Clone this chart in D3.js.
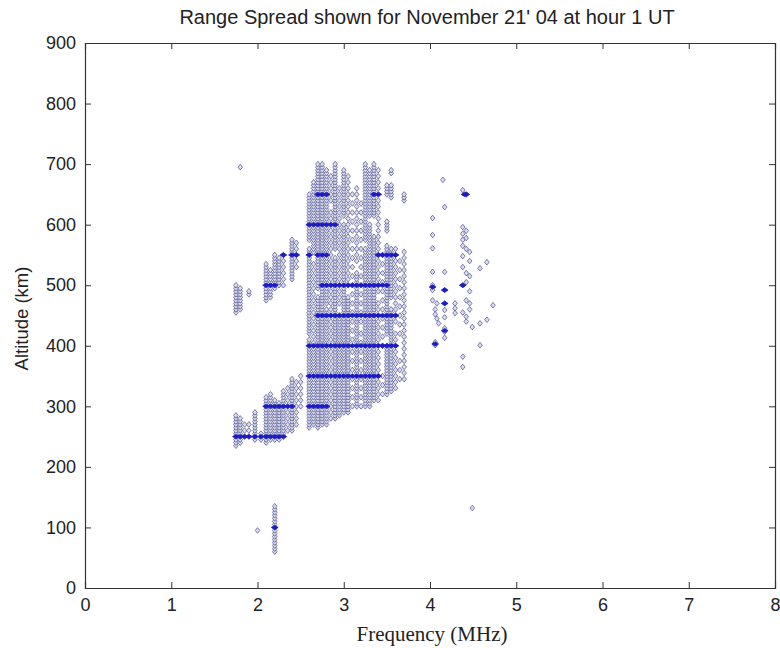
<!DOCTYPE html>
<html>
<head>
<meta charset="utf-8">
<script src="https://cdn.jsdelivr.net/npm/d3@7"></script>
<style>
  html, body { margin: 0; padding: 0; background: #fff; }
  svg { display: block; }
</style>
</head>
<body>
<svg id="chart" width="780" height="648"></svg>
<script>
// ---------- DATA ----------
const title = "Range Spread shown for November 21' 04 at hour 1 UT";
const xLabel = "Frequency (MHz)";
const yLabel = "Altitude (km)";
const xTicks = [0, 1, 2, 3, 4, 5, 6, 7, 8];
const yTicks = [0, 100, 200, 300, 400, 500, 600, 700, 800, 900];

// sounding columns: frequency (MHz) and echo altitude segments [low km, high km, gate step km]
const colFreq = [1.75, 1.80, 1.85, 1.90, 1.97, 2.00, 2.04, 2.10, 2.15, 2.20, 2.25, 2.30, 2.35, 2.40, 2.45, 2.50,
                 2.60, 2.65, 2.70, 2.75, 2.80, 2.85, 2.90, 2.95, 3.00, 3.05, 3.10, 3.15, 3.20, 3.25, 3.30, 3.35,
                 3.40, 3.45, 3.50, 3.55, 3.60, 3.65, 3.70];
const colRanges = [
  [[235, 285, 5], [455, 500, 5]],
  [[240, 280, 5], [460, 495, 5], [695, 695, 5]],
  [[250, 270, 10]],
  [[250, 275, 10], [485, 490, 5]],
  [[245, 290, 5]],
  [[95, 95, 5]],
  [[245, 255, 5]],
  [[240, 315, 5], [475, 535, 5]],
  [[245, 320, 5], [480, 525, 5]],
  [[60, 135, 5], [245, 310, 5], [495, 550, 5]],
  [[245, 305, 5], [500, 545, 5]],
  [[250, 325, 5], [500, 550, 10]],
  [[260, 330, 10]],
  [[260, 345, 5], [510, 575, 5]],
  [[270, 345, 10], [530, 570, 10]],
  [[300, 350, 10]],
  [[265, 410, 5], [420, 560, 5], [575, 650, 5]],
  [[270, 400, 5], [405, 540, 10], [555, 670, 5]],
  [[265, 480, 5], [495, 700, 5]],
  [[270, 700, 5]],
  [[270, 460, 5], [470, 690, 5]],
  [[280, 620, 10], [640, 680, 10]],
  [[280, 545, 5], [560, 700, 5]],
  [[285, 450, 5], [470, 660, 10]],
  [[290, 600, 5], [615, 690, 5]],
  [[290, 480, 5], [500, 680, 10]],
  [[300, 400, 15], [410, 650, 15]],
  [[300, 520, 5], [540, 660, 10]],
  [[300, 420, 15], [440, 640, 15]],
  [[300, 560, 5], [575, 700, 5]],
  [[300, 600, 5], [615, 690, 5]],
  [[310, 580, 5], [615, 700, 5]],
  [[310, 470, 10], [490, 690, 10]],
  [[320, 360, 15], [400, 560, 15]],
  [[320, 400, 5], [420, 565, 5], [590, 605, 5], [650, 665, 5]],
  [[325, 460, 5], [480, 560, 5], [645, 665, 5], [685, 690, 5]],
  [[330, 420, 10], [440, 560, 10]],
  [[345, 380, 15], [420, 540, 15]],
  [[345, 555, 10], [640, 650, 5]]
];

// isolated echoes of the upper (4-5 MHz) cluster
const farFreq = [4.15, 4.17, 4.03, 4.03, 4.03, 4.03, 4.17, 4.03, 4.03, 4.17, 4.03, 4.06, 4.08, 4.10, 4.17, 4.17, 4.17,
                 4.29, 4.29, 4.29, 4.17, 4.17, 4.06, 4.06, 4.17, 4.38, 4.42, 4.38, 4.38, 4.38, 4.38, 4.38, 4.38,
                 4.42, 4.42, 4.42, 4.42, 4.42, 4.46, 4.46, 4.46, 4.38, 4.42, 4.46, 4.42, 4.49, 4.58, 4.66, 4.73,
                 4.58, 4.66, 4.58, 4.38, 4.38, 4.49, 4.46, 4.46, 4.08, 4.06, 4.38, 4.42];
const farAlt  = [674, 629, 611, 583, 561, 522, 522, 500, 492, 492, 475, 460, 445, 437, 470, 459, 447,
                 470, 462, 454, 429, 423, 406, 401, 413, 657, 650, 596, 585, 575, 565, 548, 530,
                 590, 578, 560, 520, 505, 540, 515, 490, 500, 475, 460, 440, 431, 528, 538, 467,
                 437, 443, 401, 382, 365, 132, 555, 470, 470, 452, 455, 448];

// bright (overlapping) echoes along 50-km range marks: altitude, start and end frequency
const strongAlt  = [250, 300, 300, 350, 400, 450, 500, 500, 550, 550, 550, 600, 650, 650, 100];
const strongFrom = [1.75, 2.10, 2.60, 2.60, 2.60, 2.70, 2.10, 2.75, 2.30, 2.60, 3.40, 2.60, 2.70, 3.35, 2.20];
const strongTo   = [2.40, 2.40, 2.80, 3.40, 3.60, 3.60, 2.20, 3.50, 2.45, 2.80, 3.60, 2.90, 2.80, 3.40, 2.20];
const farStrongFreq = [4.03, 4.17, 4.17, 4.17, 4.06, 4.42, 4.38, 4.40];
const farStrongAlt  = [497, 492, 470, 425, 403, 650, 500, 650];

// ---------- CHART ----------
const svg = d3.select("#chart");
const pL = 85, pR = 775, pT = 43, pB = 588;

const x = d3.scaleLinear().domain([0, 8]).range([pL, pR]);
const y = d3.scaleLinear().domain([0, 900]).range([pB, pT]);

const echoes = [];
colFreq.forEach((f, i) => {
  colRanges[i].forEach(([lo, hi, st]) => {
    for (let a = lo; a <= hi + 0.01; a += st) echoes.push({ f, a });
  });
});
farFreq.forEach((f, i) => echoes.push({ f, a: farAlt[i] }));

const strong = [];
strongAlt.forEach((a, k) => {
  colFreq.forEach((f, i) => {
    if (f >= strongFrom[k] - 1e-6 && f <= strongTo[k] + 1e-6) {
      const inside = colRanges[i].some(([lo, hi]) => a >= lo && a <= hi);
      if (inside) strong.push({ f, a });
    }
  });
});
farStrongFreq.forEach((f, i) => strong.push({ f, a: farStrongAlt[i] }));

const diamond = "M0,-2.8L2.3,0L0,2.8L-2.3,0Z";
const wideDiamond = "M0,-2.2L3.4,0L0,2.2L-3.4,0Z";

const plot = svg.append("g");
plot.selectAll("path.echo").data(echoes).enter().append("path")
  .attr("class", "echo")
  .attr("d", diamond)
  .attr("transform", d => `translate(${x(d.f)},${y(d.a)})`)
  .attr("fill", "#dcdde9")
  .attr("stroke", "#5a5e9c")
  .attr("stroke-width", 0.8);

plot.selectAll("path.strong").data(strong).enter().append("path")
  .attr("class", "strong")
  .attr("d", wideDiamond)
  .attr("transform", d => `translate(${x(d.f)},${y(d.a)})`)
  .attr("fill", "#1c1cc4")
  .attr("stroke", "#1c1cc4")
  .attr("stroke-width", 0.8);

// axes
const tickFont = "Liberation Sans, Arial, sans-serif";
const axB = svg.append("g").attr("transform", `translate(0,${pB})`)
  .call(d3.axisBottom(x).tickValues(xTicks).tickSize(-6).tickPadding(10).tickFormat(d3.format("d")));
const axT = svg.append("g").attr("transform", `translate(0,${pT})`)
  .call(d3.axisTop(x).tickValues(xTicks).tickSize(-6).tickFormat(""));
const axL = svg.append("g").attr("transform", `translate(${pL},0)`)
  .call(d3.axisLeft(y).tickValues(yTicks).tickSize(-6).tickPadding(9).tickFormat(d3.format("d")));
const axR = svg.append("g").attr("transform", `translate(${pR},0)`)
  .call(d3.axisRight(y).tickValues(yTicks).tickSize(-6).tickFormat(""));

[axB, axT, axL, axR].forEach(g => {
  g.select(".domain").attr("stroke", "#333").attr("stroke-width", 1.2);
  g.selectAll(".tick line").attr("stroke", "#333").attr("stroke-width", 1);
  g.selectAll("text").attr("font-family", tickFont).attr("font-size", 18).attr("fill", "#222");
});

// titles
svg.append("text")
  .attr("x", 427).attr("y", 24)
  .attr("text-anchor", "middle")
  .attr("font-family", "Liberation Sans, Arial, sans-serif")
  .attr("font-size", 20).attr("fill", "#222")
  .text(title);

svg.append("text")
  .attr("x", 432).attr("y", 641)
  .attr("text-anchor", "middle")
  .attr("font-family", "Liberation Serif, Times New Roman, serif")
  .attr("font-size", 21).attr("fill", "#222")
  .text(xLabel);

svg.append("text")
  .attr("transform", `translate(28,${(pT + pB) / 2 + 3}) rotate(-90)`)
  .attr("text-anchor", "middle")
  .attr("font-family", "Liberation Sans, Arial, sans-serif")
  .attr("font-size", 18.5).attr("fill", "#222")
  .text(yLabel);
</script>
</body>
</html>
